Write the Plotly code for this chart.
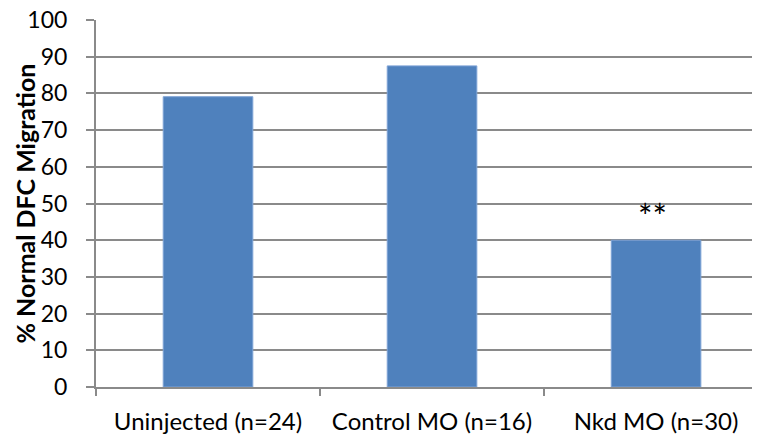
import plotly.graph_objects as go

categories = ["Uninjected (n=24)", "Control MO (n=16)", "Nkd MO (n=30)"]
values = [79.1, 87.5, 40.0]
significance = ["", "", "**"]
y_ticks = [0, 10, 20, 30, 40, 50, 60, 70, 80, 90, 100]

FONT = "Lato, 'Open Sans', Arial, sans-serif"

# page body has an 8px default margin, so the figure is sized to fill the rest
W, H = 752, 437
L, R, T, B = 88, 0, 12, 58
plot_w = W - L - R

fig = go.Figure()
fig.add_trace(go.Bar(
    x=categories, y=values,
    marker=dict(color="#4F81BD", line=dict(color="#7EA3D6", width=1)),
    width=0.4,
))

for c, v, s in zip(categories, values, significance):
    if s:
        fig.add_annotation(x=c, y=v, text=s, showarrow=False, xanchor="center",
                           yanchor="bottom", yshift=2, xshift=-4,
                           font=dict(family=FONT, size=34, color="#000000"))

fig.add_annotation(
    xref="paper", yref="paper", x=(16 - L) / plot_w, y=0.5,
    text="<b>% Normal DFC Migration</b>", textangle=-90, showarrow=False,
    xanchor="center", yanchor="middle",
    font=dict(family=FONT, size=25, color="#000000"),
)

fig.update_layout(
    width=W, height=H,
    margin=dict(l=L, r=R, t=T, b=B),
    paper_bgcolor="white", plot_bgcolor="white",
    showlegend=False,
    font=dict(family=FONT, color="#000000"),
)
fig.update_xaxes(
    range=[-0.5, 2.464],
    automargin=False,
    showgrid=False,
    showline=True, linecolor="#8a8a8a", linewidth=2,
    ticks="outside", tickson="boundaries", ticklen=7, tickwidth=2, tickcolor="#8a8a8a",
    tickfont=dict(family=FONT, size=24, color="#000000"),
    ticklabelstandoff=12,
    ticklabeloverflow="allow",
)
fig.update_yaxes(
    range=[0, 100],
    automargin=False,
    tickvals=y_ticks,
    showgrid=True, gridcolor="#8a8a8a", gridwidth=2,
    showline=True, linecolor="#8a8a8a", linewidth=2,
    zeroline=False,
    ticks="outside", ticklen=8, tickwidth=2, tickcolor="#8a8a8a",
    tickfont=dict(family=FONT, size=23, color="#000000"),
    ticklabelstandoff=14,
    ticklabeloverflow="allow",
)

fig.write_html("out.html")
